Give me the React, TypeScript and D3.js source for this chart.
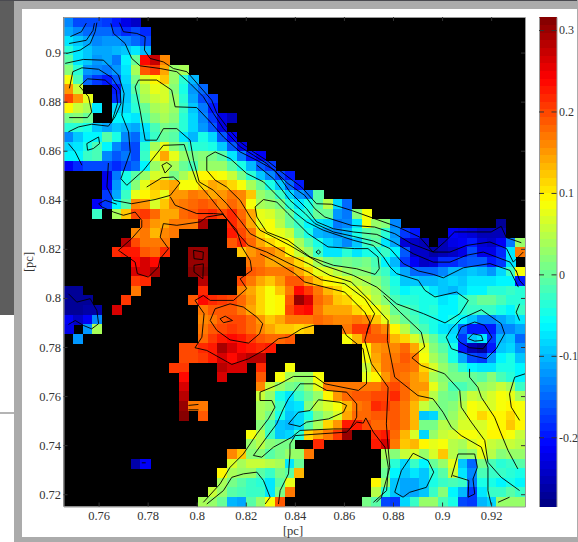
import React, { useEffect, useRef } from "react";
import * as d3 from "d3";

const gap = (n: number): null[] => Array(n).fill(null);

// map values in 0.01 units, top row first; null = no data (black)
const mapRows: (number | null)[][] = [
  [-13, -17, -17, -17, -18, -20, -22, -24],
  [-11, -13, -15, -15, -15, -17, -19, -17, -19],
  [-7, -9, -11, -13, -12, -12, -13, -15, -17],
  [-4, -7, -9, -11, -11, -10, -9, -7, -10],
  [-1, -7, -9, -12, -11, -14, -6, 0, 24, 27, 16],
  [2, -4, -12, -13, -14, -12, -7, 4, 19, 21, 14, 3, 4],
  [9, -2, -15, -18, -20, -16, -8, 1, 7, 10, 12, 3, -4, -10],
  [15, 6, ...gap(3), -20, -9, -1, 5, 8, 7, 2, -5, -12, -15],
  [20, 15, 8, ...gap(2), -19, -9, -3, 4, 6, 7, 3, -4, -11, -17, -18],
  [10, 6, 4, -7, null, -8, -8, -4, 0, 4, 5, 3, -3, -9, -14, -20],
  [1, 2, 0, ...gap(2), -6, -6, -7, -2, 2, 4, 2, -4, -8, -13, -18, -22, -25],
  [-4, -4, -5, -9, -11, -9, -10, -11, -7, -2, 1, 0, -4, -8, -12, -16, -22],
  [-13, -9, -6, -6, -1, -5, -13, -15, -8, -3, 0, -1, -7, -10, -5, -8, -16, -21],
  [-8, -7, -5, -2, -6, -13, -16, -17, -4, 4, 8, 2, -1, -4, -4, -5, -9, -16, -22],
  [-6, -6, -3, -2, -13, -16, -14, -17, -3, 8, 14, 8, 3, 1, 2, 1, -1, -7, -14, -20, -21],
  [-21, -19, -17, -17, -17, -19, -17, -15, -6, 3, 6, 4, 0, -2, 3, 3, 3, -1, -5, -10, -16, -18],
  [...gap(4), -22, -14, -5, -1, 3, 7, 6, 1, 4, 7, 10, 10, 9, 6, 1, -4, -9, -13, -17, -20],
  [...gap(4), -21, -12, -5, 2, 8, 12, 13, 14, 9, 9, 11, 14, 13, 11, 9, 4, 0, -5, -9, -15, -20],
  [...gap(4), -18, -11, -3, 8, 10, 11, 8, 15, 15, 17, 16, 14, 15, 17, 16, 12, 3, 1, -3, -8, -12, -14, -1],
  [...gap(3), -21, -18, -6, -1, 16, 15, 7, 12, 16, 17, 18, 19, 18, 16, 18, 16, 9, 4, 3, 1, -4, -7, -5, -1, 5, -8, -15],
  [...gap(3), -3, null, 4, 12, 20, 21, 18, 14, 14, 18, 19, 21, 22, 20, 22, 18, 14, 8, 7, 4, 0, -5, -4, 0, 0, -12, -14, 2, 9],
  [...gap(8), 18, 15, 14, 17, 17, 17, 29, ...gap(2), 22, 19, 14, 8, 9, 5, 0, -3, -6, -7, -8, -14, -13, -7, 9, 3, 2, -13, ...gap(10), -27],
  [...gap(7), 16, 17, 13, 16, 17, ...gap(5), 23, 20, 17, 11, 9, 8, 6, -1, -5, -10, -11, -12, -10, -5, -1, 0, -4, -12, -18, -20, ...gap(3), -21, -22, -23, -25, -25, -25],
  [...gap(6), 28, 20, 17, 17, 17, ...gap(6), 19, 22, 18, 14, 11, 10, 9, 4, -1, -5, -8, -10, -13, -9, -3, -1, -7, -11, -23, -24, -25, null, -25, -22, -21, -20, -23, -24, -21, -14, 3],
  [...gap(5), 22, 23, 23, 19, 18, 22, ...gap(2), 30, 30, ...gap(3), 12, 15, 17, 16, 14, 10, 6, 3, -3, -7, -7, -4, -7, -5, -5, -3, -6, -16, -24, -24, -26, -25, -24, -22, -17, -22, -22, -19, -7, 17],
  [...gap(7), 24, 26, 24, ...gap(3), 30, 30, ...gap(4), 17, 17, 14, 14, 14, 11, 8, 4, 1, 0, 1, 0, 1, -2, -6, -10, -18, -21, -24, -23, -19, -19, -17, -16, -16, -20, -18, -7, null],
  [...gap(7), 26, 26, 29, ...gap(3), 31, 31, ...gap(4), 19, 18, 17, 17, 17, 14, 11, 8, 7, 5, 3, 2, 2, -1, -3, -7, -11, -15, -15, -15, -13, -10, -10, -9, -10, -12, -8, -3, 9],
  [...gap(7), 21, 22, ...gap(5), 28, ...gap(3), 20, 17, 14, 12, 15, 19, 19, 15, 12, 10, 9, 7, 5, 4, 2, -1, -5, -9, -9, -10, -10, -9, -8, -9, -7, -7, -7, -6, -6, -20],
  [-27, -27, ...gap(5), 17, ...gap(6), 22, ...gap(3), 16, 14, 11, 9, 12, 17, 24, 21, 17, 13, 11, 9, 8, 6, 4, 0, -4, -6, -5, -5, -7, -9, -10, -8, -6, -6, -4, -4, -3, -4],
  [-27, -27, -27, ...gap(3), 21, ...gap(6), 19, 24, 22, 21, 20, 18, 15, 11, 9, 10, 19, 30, 26, 18, 16, 12, 11, 9, 9, 5, 2, -2, -4, -4, -5, -5, -7, -6, -4, -2, 0, 0, -2, -4, -4],
  [-27, -27, -26, -26, null, 26, ...gap(8), 17, 19, 19, 19, 17, 14, 11, 9, 10, 20, 23, 24, 17, 14, 14, 14, 11, 10, 9, 6, 0, -1, -3, -5, -4, -6, -6, -4, -3, -3, -3, -5, -6, -3],
  [-21, -24, -21, -13, ...gap(10), 16, 17, 19, 20, 20, 18, 15, 12, 14, 17, 17, 17, 18, 17, 16, 16, 17, 16, 12, 8, 3, 0, -2, -4, -5, -6, -5, -6, -9, -13, -13, -11, -9, -7],
  [-22, null, -12, 4, ...gap(10), 17, 19, 20, 21, 20, 18, 16, 14, 12, 12, 11, 12, ...gap(3), 17, 21, 21, 18, 16, 10, 5, 0, -2, -5, -7, -8, -15, -20, -20, -20, -13, -13, -11],
  [null, -12, ...gap(12), 18, 21, 23, 24, 23, 21, 19, 18, 18, 19, ...gap(5), 9, 13, 19, 19, 19, 13, 11, 7, 4, 0, -4, -7, -18, -9, -7, -18, -10, -9, -15],
  [...gap(12), 20, 20, 22, 23, 29, 26, 24, 23, 22, 23, ...gap(9), 10, 15, 16, 16, 18, 14, 8, 2, -1, -5, -20, -25, -27, -20, -9, -8, -12],
  [...gap(12), 20, 20, 21, 23, 26, 24, 26, 28, 28, ...gap(10), 9, 14, 17, 17, 19, 17, 9, 4, 1, -5, -11, -17, -18, -12, -6, -5, -9],
  [...gap(11), 21, 21, ...gap(3), 28, 26, 26, null, 22, ...gap(2), 9, ...gap(7), 6, 13, 17, 18, 18, 17, 11, 7, 3, 0, -4, -6, -7, -7, -5, -5, -6],
  [...gap(12), 24, ...gap(3), 26, ...gap(3), 19, null, 9, 4, 3, 3, 9, ...gap(4), 8, 10, 15, 18, 17, 15, 13, 4, 2, 1, 1, 0, -1, 2, -2, -4, -6],
  [...gap(12), 26, ...gap(7), 16, 6, 3, 1, 0, 3, 8, 17, 17, 17, 17, 17, 17, 19, 20, 18, 15, 15, 8, 3, -2, -2, 0, 3, 4, 6, 4, -3],
  [...gap(12), 28, ...gap(7), 6, 3, -5, -7, -3, 0, 3, 10, 15, 18, 19, 19, 20, 20, 22, 18, 15, 13, 5, 1, 0, 3, 6, 5, 7, 9, 8, 4],
  [...gap(12), 30, 17, 17, ...gap(5), 4, 3, -3, -8, -7, 2, 5, 7, 9, 13, 17, 18, 22, 21, 19, 17, 13, 6, 3, 1, 2, 5, 9, 8, 7, 9, 10, 9],
  [...gap(12), 31, null, 19, ...gap(5), 4, 1, -5, -9, -8, -5, 1, 4, 7, 14, 18, 18, 19, 19, 19, 17, 13, -9, -8, 1, 3, 6, 9, 11, 10, 10, 11, 9],
  [...gap(20), 2, -2, -9, -10, -8, -1, 4, 11, 15, 23, 23, 20, 18, 18, 19, 17, 13, 1, 1, 5, 4, 7, 7, 7, 9, 10, 12, 10],
  [...gap(19), 9, 5, -3, -9, -8, -4, 11, 14, 17, 21, 30, ...gap(2), 22, 23, 18, 13, 7, -8, 3, 6, 7, 9, 9, 8, 10, 10, 9, 6],
  [...gap(19), 3, 5, 2, 1, 1, ...gap(2), 22, ...gap(5), 23, 26, 17, 12, 13, 10, 8, 9, 5, 4, 7, 9, 6, 5, 6, 5],
  [...gap(17), 16, 12, 2, 2, -1, 1, 3, 3, 17, ...gap(7), 4, 2, 6, 7, 3, 7, 12, 5, 2, 3, 8, 5, 2, 3, 3],
  [...gap(7), -26, -21, ...gap(8), 7, 4, 6, 6, 5, 4, -7, 0, ...gap(8), 2, -4, -8, -3, -6, 0, 3, 8, -9, -15, 1, -2, -4, -3, -1],
  [...gap(16), 10, 4, 3, 3, -1, -3, 1, -1, 13, ...gap(8), 0, -6, -9, -7, -9, -4, -1, 6, -7, -13, -2, -3, -3, -4, -5],
  [...gap(16), 4, 1, -1, -3, -4, -7, -1, 8, ...gap(8), 10, 3, -9, -11, -11, -9, -5, -3, -2, -3, -14, -5, -5, -6, -5, -6],
  [...gap(15), 6, 3, -1, -2, -3, -3, -7, 1, 17, ...gap(8), 5, -4, -9, -11, -11, -9, -3, 2, -6, -10, -18, -7, -3, -3, -1, -3],
  [...gap(14), 4, 3, 0, -10, -11, -1, 3, 9, 19, ...gap(8), 1, -1, -17, -18, -8, -3, 3, 3, -2, -5, -17, -18, -10, -8, 3, 3, 3],
];

// contour lines, points are [x, y] in 0.001 pc
const contourLines: number[][][] = [
  [[748.5, 906.5], [753, 908.5], [755, 912]],
  [[748, 903.7], [755, 905], [757.7, 909], [758.3, 912]],
  [[746.8, 899.6], [752.5, 901], [756.6, 903.7], [758.6, 908.5], [759.3, 912.2]],
  [[768.5, 912.2], [770.1, 908.5], [775.6, 907.8], [779, 906.4], [778.7, 901], [781, 897.6], [786.4, 896.2], [790.5, 893.5], [796, 892.2], [801.4, 886], [806.1, 880.6], [808.2, 875.2], [812.9, 869], [817.7, 863.6], [823.1, 859.5], [828.5, 856.1], [837.2, 849.3], [842.7, 845.2], [848.8, 838.4], [854.9, 838.2], [863, 835.7], [872.5, 832.3], [882, 828.9], [890.9, 824.8], [896.3, 818.7], [901, 822.8], [905.1, 826.9], [920, 826.9], [924.1, 829.2], [926.2, 824.6], [932.3, 822.5]],
  [[765, 911.9], [766.1, 907.8], [770.8, 903.7], [773.5, 897.6], [776.9, 894.6], [785.1, 893.5], [791.9, 892.2], [797.3, 887.4], [802.7, 882], [806.8, 875.2], [810.9, 869], [817.7, 861.6], [823.1, 858.2], [828.5, 854.8], [837.2, 846.6], [844, 841.8], [848.1, 836.4], [852.2, 833], [863, 829.6], [872.5, 828.9], [880.7, 826.2], [887.5, 822.1], [896.4, 818.7], [903.2, 818.7], [910, 821.4], [919.5, 822.8], [926.3, 820.1], [929, 814.6], [933.1, 818.7]],
  [[930.4, 810.6], [927.7, 814.6], [916.8, 818.7], [910, 817.4], [903.2, 814.6], [896.4, 814.6], [888.3, 818], [880.1, 822.8], [873.4, 825.9], [863.8, 826.9], [855.7, 828.2], [848.9, 831], [844.8, 836.4], [838, 843.2], [831.9, 852], [824.5, 856.1], [817.7, 859.5], [810.9, 865.6], [805.5, 871.8], [800, 877.6], [791.2, 877.9], [789.8, 884.7], [783.7, 888.8], [776.3, 888.8], [774.9, 886], [776.9, 876.5], [779, 864.3], [783.7, 864.3], [786.4, 869], [791.9, 869], [797.3, 864.3], [798.7, 856.1], [801, 847.3], [806.8, 843.9], [812.2, 838.4], [817.7, 831.6], [821.8, 826.2], [828.5, 822.8], [838, 817.4], [845.5, 814], [854.3, 809.2], [863, 806.5], [871.2, 798.3], [878, 790.8], [877.7, 782.7], [880.7, 767.7], [890.2, 760.2], [896.3, 758.9], [900.4, 753.4], [903.8, 747.3], [907.8, 743.9], [916, 739.2], [918.7, 731], [918.7, 721.5], [920.1, 715.4]],
  [[910.7, 799], [905.9, 802.4], [897.1, 800.4], [893, 803.1], [890.3, 807.2], [881.5, 809.9], [878.8, 812.6], [876.1, 816.7], [872, 821.4], [863.8, 823.5], [851.6, 827.6], [844.8, 831], [838, 836.4], [827.2, 847.3], [820.4, 850.7], [813.6, 856.8], [807.5, 859.5], [804.1, 857.5], [804.1, 852], [807.5, 848], [812.2, 845.2], [817.7, 839.8], [821.8, 833], [825.8, 827.6], [832.6, 824.2], [838, 821.4], [851.6, 813.3], [863.8, 809.2], [873.4, 804.4], [881.5, 797.6], [892.4, 793.6], [901.2, 789.8], [907.3, 793.6], [910.7, 799]],
  [[876.1, 801], [882.9, 794.2], [891.5, 786.1], [892.9, 780], [887.7, 775.6], [891.5, 772.5], [901, 769.1], [907.2, 762.3], [907.8, 755.5], [911.9, 749.4], [917.4, 741.9], [918.7, 733], [924.1, 726.9], [931.6, 721.5]],
  [[824.5, 854.1], [831.3, 848.6], [838, 839.8], [844.2, 834.4], [848.2, 830.3], [855.7, 826.9], [863.8, 825.1], [872, 823.2], [878.8, 820.1], [884.2, 814], [890.3, 811], [896.4, 809.6], [900.5, 808.2], [908.7, 812.3], [919.5, 814], [927.7, 811.2], [931.1, 804.4]],
  [[823.8, 837.1], [827.2, 840.1], [832.6, 839.1], [837.2, 834.4], [845.4, 826.2], [853.5, 820.8], [864.4, 820.1], [869.8, 820.1], [873.9, 816.7], [874.4, 811.9], [872.7, 809.6], [865.2, 811.9], [855.7, 813.3], [846.2, 816.7], [837.2, 823.5], [828.5, 826.9], [824.5, 833], [823.8, 837.1]],
  [[848.6, 818.7], [849.6, 819.5], [850.5, 818.7], [849.6, 817.9], [848.6, 818.7]],
  [[748.1, 885.4], [749.5, 892.2], [753.2, 893.8], [760, 893.2], [765.4, 889.8], [768.8, 884.7], [769.1, 879.2], [766.7, 873.8], [764, 870], [757.2, 870.8], [751.8, 869.7], [747.7, 867.7]],
  [[748, 873.5], [755.5, 873.5], [757.2, 875.8], [755.9, 882], [752.2, 886.3], [755.5, 889.3], [762.7, 888.8], [767.2, 884.7], [767.7, 879.2], [765.4, 871.8]],
  [[746.4, 895.6], [753.8, 897.2], [762, 896.9], [768.1, 890.8], [770.4, 883.3], [769.5, 874.5], [772.2, 867.7], [772.9, 859.5], [769.1, 848.6], [771.5, 845.9], [778.3, 852], [786.4, 862.2], [794.9, 862.5], [797.3, 854.8], [800, 847.3], [804.8, 841.8], [810.2, 835], [815.6, 827.6], [821.1, 821.4], [828.5, 818.7], [838, 813.9], [845.4, 810.6], [850.8, 807.4], [860.3, 805.8], [868.5, 799.7], [872.5, 793.6], [869.8, 787.4], [868.5, 782.7], [871.2, 773.2], [878, 763.6], [877.3, 748.7], [878, 739.2], [878.7, 731], [875.3, 718.8], [873.2, 716.7]],
  [[747.7, 862.9], [750.5, 859.5], [753.2, 854.1]],
  [[755.2, 862.9], [760, 865.6], [760.4, 862.9], [757.9, 860.9], [755.5, 860.2], [755.2, 862.9]],
  [[785.8, 854.1], [787.8, 855.2], [789.8, 853.8], [787.1, 850.9], [785.8, 854.1]],
  [[764, 855], [763.4, 845.2], [766.1, 839.8], [773.5, 838.4], [783, 840.1], [789.2, 841.8], [793.2, 846.9], [790.5, 849.3], [785.8, 849], [779.6, 845.2]],
  [[789.2, 841.2], [791.2, 837.8], [800, 834.4], [806.8, 834.4], [810.9, 834.1]],
  [[810.9, 834.1], [804.1, 833], [801.4, 831], [791.9, 829.6], [786.4, 830.3], [785.1, 824.8], [788.5, 820.1], [785.1, 816], [784.4, 812.6], [780.3, 808.5], [775.8, 809.9], [774.9, 814.6], [768.1, 819.4], [773.5, 824.2], [777.6, 828.9], [777.6, 831.6], [774.9, 835], [770.1, 833.7], [766.1, 835], [761.3, 837.1], [760, 838.4], [762.7, 839.8], [767.4, 838.2]],
  [[810.2, 834.4], [812.2, 832.3], [816.3, 827.6], [818.4, 820.8], [821.8, 815.3], [822.4, 811.2], [817.7, 807.8], [820.4, 803.8], [815, 799], [805.5, 799], [802.7, 801], [799.3, 799], [803, 793.6], [802.1, 784], [799.3, 779.7], [804.1, 778.6], [814.3, 772.9], [821.1, 775.2], [827.2, 778.6], [833.3, 783.4], [837.2, 784], [842.7, 787.4], [847.4, 788.8], [859, 788.8], [861, 784.7], [867.8, 779.3], [869.2, 770.4], [869.2, 765], [865.9, 762.3], [852.3, 765], [848.2, 768], [839.4, 768], [833.3, 764.7], [825.8, 761.6], [825.8, 758.2], [830.6, 758.2], [831.9, 755.5], [829.2, 750.7], [824.5, 744.6], [819, 736.4], [813.6, 731], [809.5, 724.2], [802.7, 716.7]],
  [[825.8, 818], [831.3, 815.3], [840, 809.9], [844, 806.5], [852.2, 804.4], [860.3, 802.4], [868.5, 794.2], [870.5, 790.2], [869.2, 785.4]],
  [[823.1, 735.8], [826.5, 735.1], [831.3, 739.2], [838.7, 743.2], [842.1, 746], [855.7, 746.6], [862.5, 746.6], [865.2, 751.4], [865.2, 756.8], [861.1, 761.6], [853, 762.3], [848.2, 765], [842.1, 765], [837.4, 758.9], [835.3, 754.8], [832.6, 748.7], [828.5, 743.2], [823.1, 735.8]],
  [[833.3, 716], [834, 721.5], [837.4, 728.3], [838, 736.4], [838, 740.5], [840.1, 743.9], [850.3, 744.6], [861.1, 745.3], [865.2, 749.4], [867.9, 749], [868.9, 751.1], [872, 745.3], [876.7, 739.2], [878.1, 731], [877.4, 721.5], [872, 716.7]],
  [[837.4, 748.7], [841.4, 753.4], [846.2, 754.1], [849.6, 758.5], [858.4, 757.5], [861.1, 756.2], [859.8, 753.4], [853.7, 750.7], [844.8, 749.4], [842.1, 747.6], [837.4, 748.7]],
  [[804.1, 716], [810.9, 721.5], [814.3, 726.9], [819, 728.3], [824.5, 729], [827.2, 725.6], [829.9, 718.8], [827.9, 716]],
  [[805.5, 790.8], [807.5, 795.6], [813.6, 797.6], [819, 796.3], [824.5, 792.2], [826.9, 789.5], [825.6, 785.4], [821.1, 781.6], [813.6, 782.9], [808.2, 786.8], [805.5, 790.8]],
  [[809.5, 791.5], [811.6, 792.6], [814.6, 790.8], [810.9, 789.9], [809.5, 791.5]],
  [[798.7, 819.4], [802.7, 818.7], [802.5, 815.6], [798.9, 816], [798.7, 819.4]],
  [[798.9, 813.3], [802.7, 813.9], [802.5, 807.8], [798.9, 810.6], [798.9, 813.3]],
  [[747.7, 801.7], [751.1, 798.3], [756.6, 799.7], [759.3, 794.9], [760, 789.5], [757.2, 787.4], [753.8, 788.8], [750.5, 790.8], [747.7, 789.2]],
  [[777.6, 732.8], [779.2, 732.8]],
  [[796.6, 756.2], [800.7, 756.6]],
  [[796.6, 754.4], [800.7, 754.4]],
  [[901.7, 784], [903.8, 787.4], [907.8, 791.5], [916, 795.2], [924.1, 789.5], [925.5, 785.4], [922.1, 779.3], [918, 775.2], [911.9, 776.6], [903.8, 779.3], [901.7, 784]],
  [[905.8, 784], [907.8, 788.1], [913.3, 790.2], [917.3, 788.8], [920.3, 784], [916.7, 779.3], [911.2, 779.7], [907.2, 782], [905.8, 784]],
  [[910.6, 783.4], [912.6, 785.4], [916, 784.7], [916.7, 782.7], [913.3, 782.4], [910.6, 783.4]],
  [[933.9, 769.1], [929.6, 767.7], [927.5, 760.9], [928.2, 755.5], [931.6, 750.1]],
  [[931.6, 797.6], [930.2, 794.2], [931.6, 790.8]],
  [[930.2, 811.2], [931.6, 807.1], [933.4, 805.1]],
  [[883.4, 729.6], [888.2, 736.7], [894.3, 733.7], [896.6, 729], [893.6, 722.8], [886.8, 720.8], [884.1, 718.8], [880.7, 720.8], [883.4, 729.6]],
  [[903.8, 726.9], [906.5, 736.4], [913.3, 736.4], [914.4, 731], [912.6, 726.2], [913.3, 720.1], [910.6, 718.8], [910.9, 725.6], [904.4, 727.6]],
  [[922.8, 716.7], [927.5, 718.8]],
  [[911.2, 771.1], [911.2, 767.7], [914.6, 763.6], [916, 759.5], [921.4, 751.4], [924.1, 744.6], [926.9, 737.8], [930.9, 730.3]],
];

const xTicks = [0.76, 0.78, 0.8, 0.82, 0.84, 0.86, 0.88, 0.9, 0.92];
const yTicks = [0.72, 0.74, 0.76, 0.78, 0.8, 0.82, 0.84, 0.86, 0.88, 0.9];
const barTicks = [-0.2, -0.1, 0, 0.1, 0.2, 0.3];

const WIDTH = 578;
const HEIGHT = 542;
const plot = { left: 63.5, right: 525, top: 17, bottom: 506.5 };
const bar = { left: 539, right: 556.5 };
const valueRange: [number, number] = [-0.285, 0.316];
const LEVELS = 64;

// matlab style jet
function jet(t: number) {
  const c = (v: number) => Math.round(255 * Math.max(0, Math.min(1, v)));
  return d3.rgb(
    c(1.5 - Math.abs(4 * t - 3)),
    c(1.5 - Math.abs(4 * t - 2)),
    c(1.5 - Math.abs(4 * t - 1))
  ).formatHex();
}

const levels = d3.range(LEVELS).map((i) => jet((i + 0.5) / LEVELS));
const color = d3.scaleQuantize<string>().domain(valueRange).range(levels);

const x = d3.scaleLinear().domain([0.7457, 0.9338]).range([plot.left, plot.right]);
const y = d3.scaleLinear().domain([0.9145, 0.715]).range([plot.top, plot.bottom]);
const barY = d3.scaleLinear().domain(valueRange).range([plot.bottom, plot.top]);

const colBand = d3.scaleBand<number>().domain(d3.range(48)).range([plot.left, plot.right]);
const rowBand = d3.scaleBand<number>().domain(d3.range(51)).range([plot.top, plot.bottom]);
const levelBand = d3.scaleBand<number>().domain(d3.range(LEVELS).reverse()).range([plot.top, plot.bottom]);

const contourPath = d3
  .line<number[]>()
  .x((p) => x(p[0] / 1000))
  .y((p) => y(p[1] / 1000));

export default function App() {
  const axesRef = useRef<SVGGElement | null>(null);

  useEffect(() => {
    const g = d3.select(axesRef.current);
    g.selectAll("*").remove();
    const fmt = (d: any) => d3.format("~g")(d).replace("\u2212", "-");

    const drawAxis = (axis: any, tx: number, ty: number, fontSize = 12.5) => {
      const a = g.append("g").attr("transform", `translate(${tx},${ty})`).call(axis);
      a.select(".domain").attr("stroke", "#9a9a9a");
      a.selectAll(".tick line").attr("stroke", "#333");
      a.selectAll("text")
        .attr("fill", "#333")
        .style("font-family", "'Liberation Serif', serif")
        .style("font-size", `${fontSize}px`);
      return a;
    };

    drawAxis(d3.axisBottom(x).tickValues(xTicks).tickFormat(fmt).tickSize(-4).tickPadding(4.5).tickSizeOuter(0), 0, plot.bottom);
    drawAxis(d3.axisLeft(y).tickValues(yTicks).tickFormat(fmt).tickSize(-4).tickPadding(2.5).tickSizeOuter(0), plot.left, 0);
    drawAxis(d3.axisTop(x).tickValues(xTicks).tickFormat(() => "").tickSize(-4).tickSizeOuter(0), 0, plot.top);
    drawAxis(d3.axisRight(y).tickValues(yTicks).tickFormat(() => "").tickSize(-4).tickSizeOuter(0), plot.right, 0);

    // colorbar ticks go in from both sides
    drawAxis(d3.axisRight(barY).tickValues(barTicks).tickFormat(fmt).tickSize(-5).tickPadding(2.5).tickSizeOuter(0), bar.right, 0, 12);
    drawAxis(d3.axisLeft(barY).tickValues(barTicks).tickFormat(() => "").tickSize(-5).tickSizeOuter(0), bar.left, 0);
  }, []);

  return (
    <svg
      width={WIDTH}
      height={HEIGHT}
      style={{ position: "absolute", left: 0, top: 0, display: "block" }}
    >
      {/* slide frame behind the figure */}
      <rect x={0} y={0} width={WIDTH} height={HEIGHT} fill="#fff" />
      <rect x={0} y={0} width={14} height={315} fill="#5d5d5d" />
      <rect x={0} y={412} width={14} height={2} fill="#b4b4b4" />
      <rect x={14} y={0} width={8} height={HEIGHT} fill="#ababab" />
      <rect x={14} y={0} width={WIDTH - 14} height={9} fill="#ababab" />
      <rect x={14} y={537} width={WIDTH - 14} height={5} fill="#ababab" />
      <rect x={0} y={0} width={WIDTH} height={1} fill="#4a4a50" />
      <rect x={577} y={0} width={1} height={HEIGHT} fill="#ababab" />

      <rect
        x={plot.left}
        y={plot.top}
        width={plot.right - plot.left}
        height={plot.bottom - plot.top}
        fill="#000"
      />
      <g shapeRendering="crispEdges">
        {mapRows.map((row, r) =>
          row.map((v, c) =>
            v === null ? null : (
              <rect
                key={`${r}-${c}`}
                x={colBand(c)}
                y={rowBand(r)}
                width={colBand.bandwidth() + 0.5}
                height={rowBand.bandwidth() + 0.5}
                fill={color(v / 100)}
              />
            )
          )
        )}
      </g>
      <g fill="none" stroke="#000" strokeWidth={0.9}>
        {contourLines.map((line, i) => (
          <path key={i} d={contourPath(line) ?? ""} />
        ))}
      </g>

      <g shapeRendering="crispEdges">
        {levels.map((c, i) => (
          <rect
            key={i}
            x={bar.left}
            y={levelBand(i)}
            width={bar.right - bar.left}
            height={levelBand.bandwidth() + 0.5}
            fill={c}
          />
        ))}
      </g>
      <g ref={axesRef} />

      <text
        x={293}
        y={534.5}
        textAnchor="middle"
        fontFamily="'Liberation Serif', serif"
        fontSize={12.5}
        fill="#333"
      >
        [pc]
      </text>
      <text
        transform="translate(33,262) rotate(-90)"
        textAnchor="middle"
        fontFamily="'Liberation Serif', serif"
        fontSize={12.5}
        fill="#333"
      >
        [pc]
      </text>
    </svg>
  );
}
